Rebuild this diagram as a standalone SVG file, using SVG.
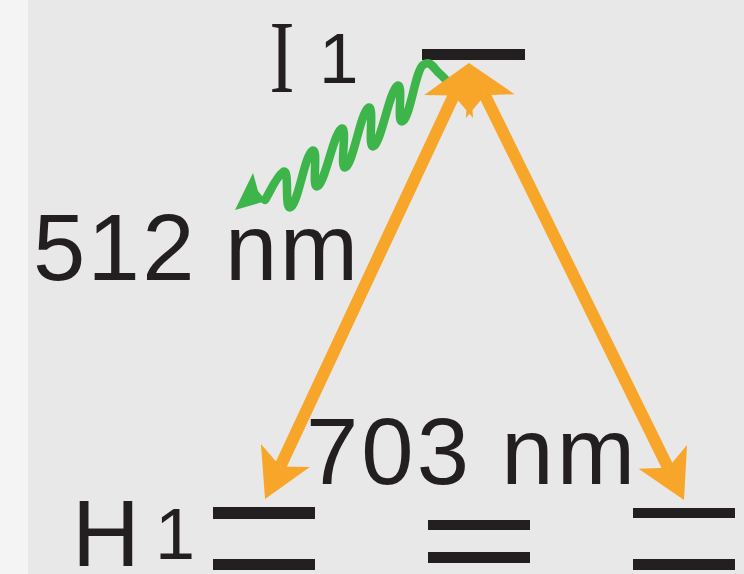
<svg xmlns="http://www.w3.org/2000/svg" width="744" height="574" viewBox="0 0 744 574">
  <defs>
    <style>
      .bar { fill: #231f20; }
      .lbl { font-family: "Liberation Sans", Arial, sans-serif; fill: #231f20; }
      .serif { font-family: "Liberation Serif", "Times New Roman", serif; fill: #231f20; }
      .orange { stroke: #f7a629; stroke-width: 12; fill: none; marker-start: url(#oh); marker-end: url(#oh); }
      .wave { stroke: #3db54a; stroke-width: 8.5; fill: none; stroke-linecap: round; stroke-linejoin: round; }
    </style>
    <marker id="oh" markerUnits="userSpaceOnUse" viewBox="-15 -30 55 60" markerWidth="55" markerHeight="60" refX="0" refY="0" orient="auto-start-reverse">
      <path d="M36,0 L-12,-27 L0,0 L-12,27 Z" fill="#f7a629"/>
    </marker>
  </defs>

  <rect x="0" y="0" width="744" height="574" fill="#e8e8e8"/>
  <rect x="0" y="0" width="28" height="574" fill="#f4f4f4"/>

  <g id="level-I1">
    <rect class="bar" x="422" y="49" width="103" height="11"/>
    <text class="serif" font-size="104" transform="translate(271,92) scale(0.72,1)" x="-2" y="0">I</text>
    <text class="lbl" font-size="71" x="319" y="83">1</text>
  </g>

  <g id="level-H1">
    <rect class="bar" x="213" y="507" width="102" height="12"/>
    <rect class="bar" x="213" y="559" width="102" height="11"/>
    <text class="lbl" font-size="94" x="72" y="566">H</text>
    <text class="lbl" font-size="72" x="155" y="559">1</text>
  </g>

  <g id="level-mid">
    <rect class="bar" x="428" y="520" width="102" height="10"/>
    <rect class="bar" x="428" y="552" width="102" height="11"/>
  </g>

  <g id="level-right">
    <rect class="bar" x="633" y="508" width="102" height="10"/>
    <rect class="bar" x="633" y="559" width="102" height="11"/>
  </g>

  <g id="label-512">
    <text class="lbl" font-size="94" x="33" y="280" textLength="325" lengthAdjust="spacing">512 nm</text>
  </g>

  <g id="label-703">
    <text class="lbl" font-size="94" x="306" y="484" textLength="329" lengthAdjust="spacing">703 nm</text>
  </g>

  <g id="connectors">
    <path class="wave" d="M265,200 C269,194 275.5,177.8 283,172 C290.5,166.2 283.5,212.8 291,207 C298.5,201.2 304.5,156.8 312,151 C319.5,145.2 310.5,191.8 318,186 C325.5,180.2 333.5,134.8 341,129 C348.5,123.2 338.5,172.8 346,167 C353.5,161.2 360.5,113.8 368,108 C375.5,102.2 366.5,151.8 374,146 C381.5,140.2 389.5,91.8 397,86 C404.5,80.2 395.5,126.8 403,121 C410.5,115.2 415.5,70.8 423,65 C430.5,59.2 434,69 440,74 C446,79 449.5,84.5 452,88"/>
    <polygon points="235,210 253,173 258,191 266,201" fill="#3db54a"/>
    <line class="orange" x1="280.3" y1="466.4" x2="453.7" y2="95.6"/>
    <line class="orange" x1="484.9" y1="95.3" x2="668.1" y2="467.7"/>
  </g>
</svg>
